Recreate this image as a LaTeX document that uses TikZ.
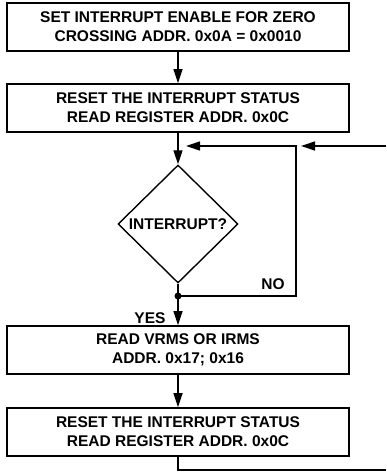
\documentclass[tikz,border=0pt]{standalone}
\usepackage{fontspec}
\setmainfont{Liberation Sans}
\usetikzlibrary{arrows.meta,shapes.geometric}
\begin{document}
\begin{tikzpicture}[x=1pt,y=-1pt,
  every node/.style={font=\fontsize{15.5}{19}\selectfont\bfseries},
  box/.style={draw,line width=1.6pt,minimum width=342pt,minimum height=48pt,align=center,inner sep=0pt},
  dec/.style={draw,line width=1.4pt,shape=diamond,minimum width=120pt,minimum height=118pt,inner sep=0pt},
  conn/.style={line width=1.3pt},
  arr/.style={conn,-{Triangle[length=14pt,width=9pt]}},
  lbl/.style={inner sep=0pt}]
\useasboundingbox (0,0) rectangle (386,473);
\node[box] (b1) at (178,27) {SET INTERRUPT ENABLE FOR ZERO\\CROSSING ADDR. 0x0A = 0x0010};
\node[box] (b2) at (178,108) {RESET THE INTERRUPT STATUS\\READ REGISTER ADDR. 0x0C};
\node[dec] (d) at (178,224) {INTERRUPT?};
\node[box] (b3) at (178,350) {READ VRMS OR IRMS\\ADDR. 0x17; 0x16};
\node[box] (b4) at (178,432) {RESET THE INTERRUPT STATUS\\READ REGISTER ADDR. 0x0C};
\coordinate (j) at (178,296);
\coordinate (nr) at (296,296);
\coordinate (nt) at (296,146);
\coordinate (fa) at (186,146);
\coordinate (re) at (386,146);
\coordinate (ra) at (301,146);
\coordinate (bb) at (178,470);
\coordinate (br) at (386,470);
\node[lbl] (no) at (273,284) {NO};
\node[lbl] (yes) at (150,318) {YES};
\draw[arr] (b1) -- (b2);
\draw[arr] (b2) -- (d);
\draw[conn] (d.south) -- (j);
\fill (j) circle[radius=3.5pt];
\draw[arr] (j) -- (b3);
\draw[arr] (j) -- (nr) -- (nt) -- (fa);
\draw[arr] (re) -- (ra);
\draw[arr] (b3) -- (b4);
\draw[conn] (b4) -- (bb) -- (br);
\end{tikzpicture}
\end{document}
